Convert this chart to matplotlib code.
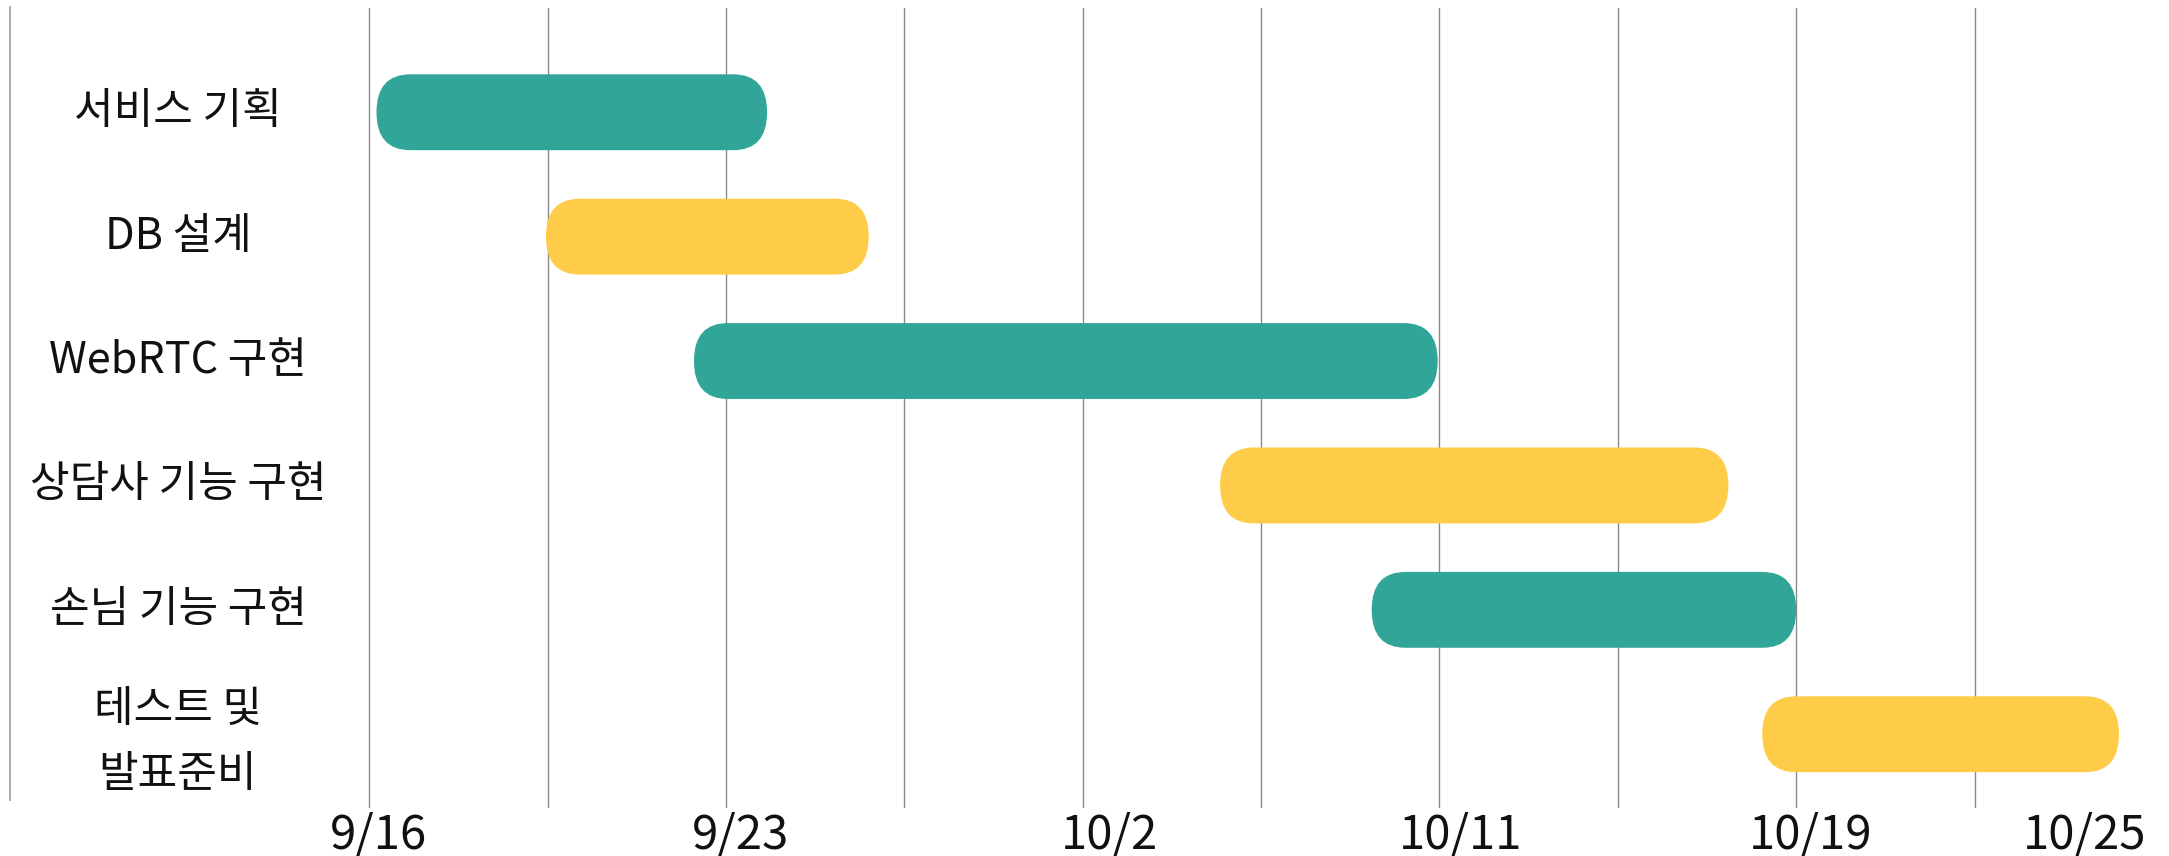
import matplotlib.pyplot as plt
from matplotlib.patches import FancyBboxPatch
from matplotlib.lines import Line2D
from matplotlib.transforms import blended_transform_factory

plt.rcParams['font.family'] = ['Noto Sans CJK KR', 'DejaVu Sans']

# tasks, top to bottom
tasks = ['서비스 기획', 'DB 설계', 'WebRTC 구현', '상담사 기능 구현', '손님 기능 구현', '테스트 및\n발표준비']
# start / end measured in grid columns (one column = gap between two grid lines)
starts = [0.04, 0.99, 1.82, 4.77, 5.62, 7.81]
ends = [2.23, 2.80, 5.99, 7.62, 8.00, 9.81]
bar_colors = ['#31A698', '#FFCC4A', '#31A698', '#FFCC4A', '#31A698', '#FFCC4A']

date_labels = ['9/16', '9/23', '10/2', '10/11', '10/19', '10/25']
date_pos = [0.05, 2.08, 4.15, 6.12, 8.08, 9.62]
n_grid = 10

W, H = 2169, 856
fig = plt.figure(figsize=(W / 100, H / 100), dpi=100)
ax = fig.add_axes([280 / W, 1 - 808 / H, (2160 - 280) / W, 800 / H])
ax.set_xlim(-0.501, 10.04)
ax.set_ylim(5.593, -0.838)
for s in ax.spines.values():
    s.set_visible(False)

for g in range(n_grid):
    ax.axvline(g, color='#8a8a8a', lw=1.0, zorder=1)

bar_h = 0.61
for i, (x0, x1, c) in enumerate(zip(starts, ends, bar_colors)):
    p = FancyBboxPatch((x0, i - bar_h / 2), x1 - x0, bar_h,
                       boxstyle='round,pad=0,rounding_size=0.19',
                       mutation_aspect=1.6, fc=c, ec='none', zorder=2)
    ax.add_patch(p)

trans = blended_transform_factory(fig.transFigure, ax.transData)
for i, t in enumerate(tasks):
    ax.text(178 / W, i + (0.07 if '\n' in t else 0), t, transform=trans,
            ha='center', va='center', fontsize=31, linespacing=1.6,
            color='#111111')

ax.set_yticks([])
ax.set_xticks(date_pos, date_labels)
ax.tick_params(axis='x', length=0, pad=1.9, labelsize=34, labelcolor='#111111')

# thin line at the far left of the slide
fig.add_artist(Line2D([10 / W, 10 / W], [1 - 7 / H, 1 - 800 / H],
                      transform=fig.transFigure, color='#9a9a9a', lw=1.2))

fig.savefig('out.png', dpi=100, facecolor='white')
